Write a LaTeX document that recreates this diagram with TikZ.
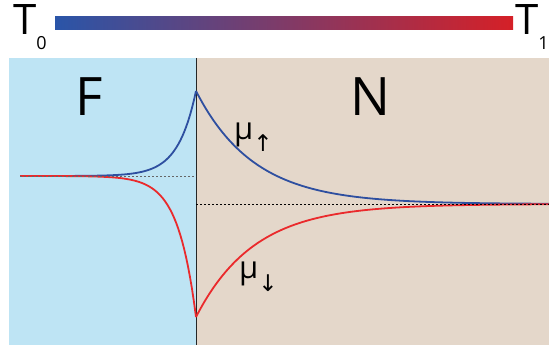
\documentclass[tikz,border=0pt]{standalone}
\usepackage{fontspec}
\setmainfont{Open Sans}
\newfontfamily\arrowfont{DejaVu Sans}
\usepackage{tikz}
\usepackage{xcolor}
\definecolor{ferroblue}{HTML}{BEE4F4}
\definecolor{normalbeige}{HTML}{E4D7CA}
\definecolor{coldblue}{HTML}{2A55A8}
\definecolor{hotred}{HTML}{D52027}
\definecolor{upblue}{HTML}{2E4FA0}
\definecolor{downred}{HTML}{EA2A2C}
\tikzset{
  spinup/.style={upblue,line width=1.8pt},
  spindown/.style={downred,line width=1.8pt},
  refline/.style={line width=0.9pt,dash pattern=on 2pt off 2pt},
  biglabel/.style={anchor=base,inner sep=0pt,font=\fontsize{53}{53}\selectfont},
  templabel/.style={anchor=base west,inner sep=0pt,font=\fontsize{42}{42}\selectfont},
  mulabel/.style={anchor=base west,inner sep=0pt,font=\fontsize{31}{31}\selectfont}
}

\begin{document}
\begin{tikzpicture}[x=1pt,y=-1pt]
\useasboundingbox (0,0) rectangle (549,345);
\shade[left color=coldblue,right color=hotred] (55,17) rectangle (513,30);
\node[templabel] (tzero) at (13,35) {T\raisebox{-15pt}{\fontsize{18}{18}\selectfont 0}};
\node[templabel] (tone) at (515,35) {T\raisebox{-15pt}{\fontsize{18}{18}\selectfont 1}};
\fill[ferroblue] (9,58) rectangle (196,345);
\fill[normalbeige] (196,58) rectangle (549,345);
\draw[black!85,line width=1pt] (196,58) -- (196,345);
\node[biglabel] (ferro) at (89,115) {F};
\node[biglabel] (normal) at (370,115) {N};
\draw[spinup] plot[domain=20:196,samples=90] (\x,{176-85*exp((\x-196)/18)});
\draw[spindown] plot[domain=20:196,samples=90] (\x,{176+141*exp((\x-196)/18)});
\draw[spinup] plot[domain=196:549,samples=120] (\x,{204-113*exp(-(\x-196)/58)});
\draw[spindown] plot[domain=196:549,samples=120] (\x,{204+113*exp(-(\x-196)/58)});
\draw[refline,black!60] (20,176) -- (196,176);
\draw[refline,black] (196,204) -- (549,204);
\node[mulabel] (muup) at (234,139) {μ\raisebox{-13pt}{\arrowfont\fontsize{23}{23}\selectfont ↑}};
\node[mulabel] (mudown) at (239,278) {μ\raisebox{-13pt}{\arrowfont\fontsize{23}{23}\selectfont ↓}};
\end{tikzpicture}
\end{document}
